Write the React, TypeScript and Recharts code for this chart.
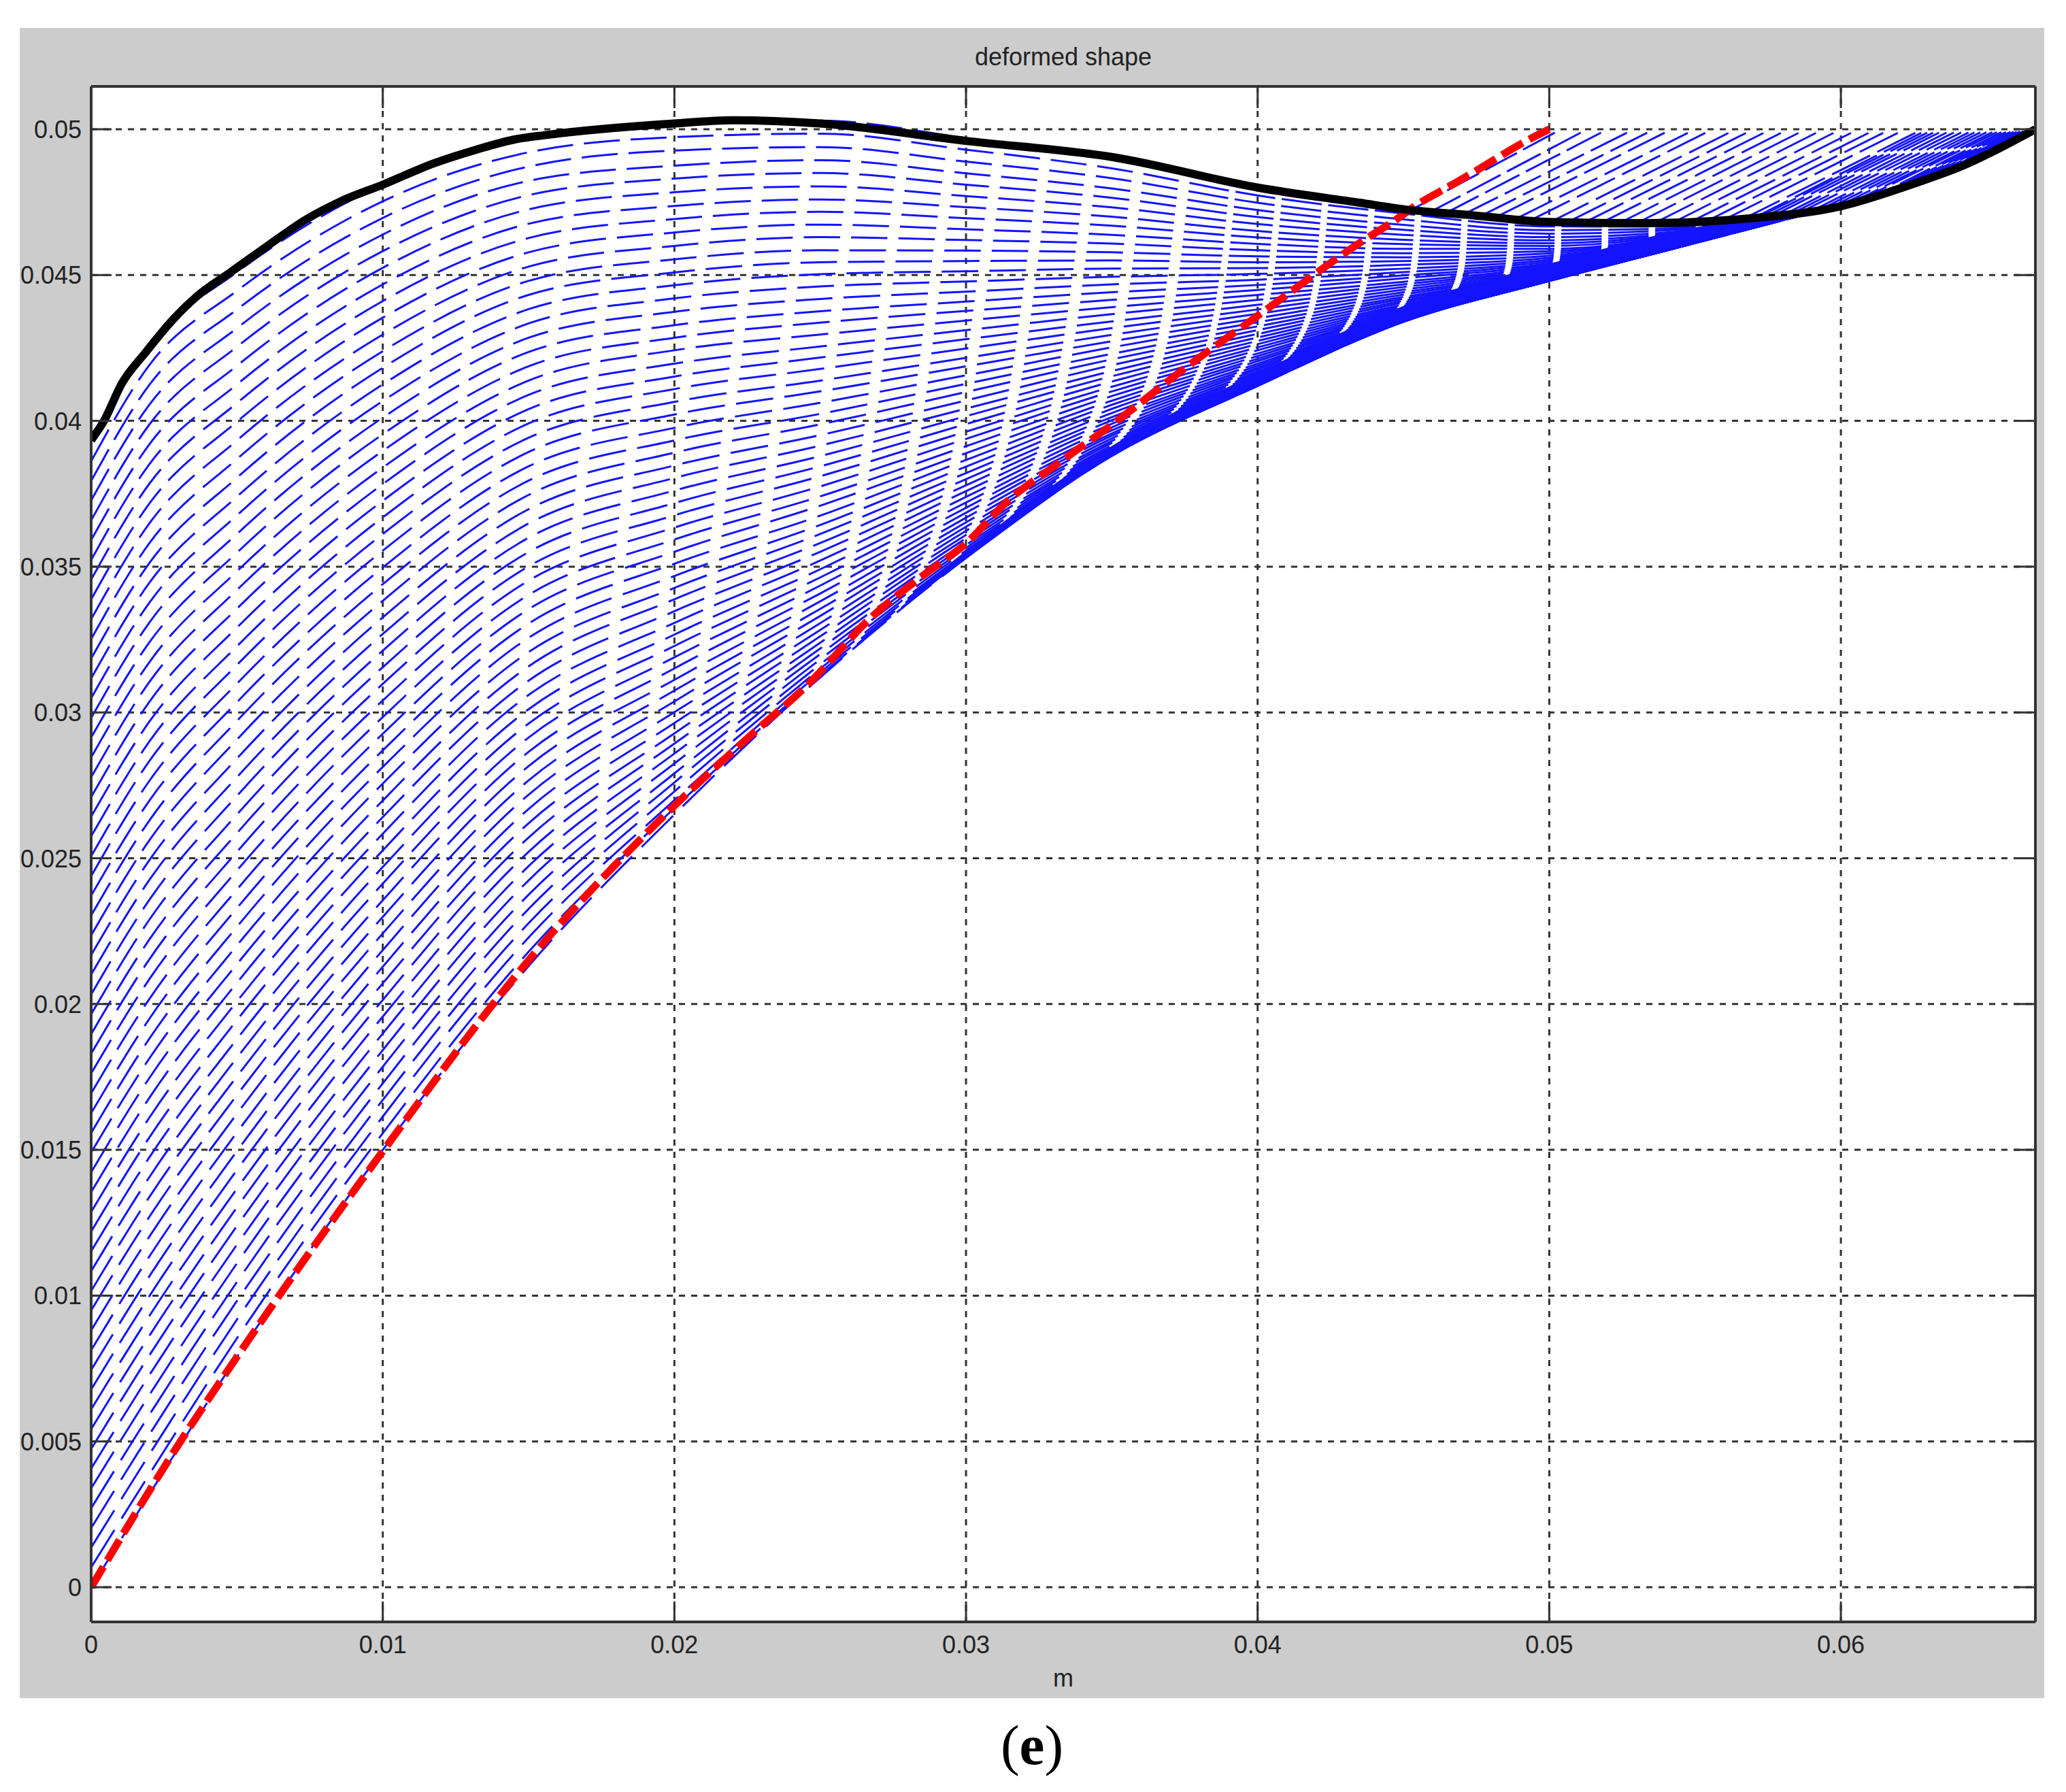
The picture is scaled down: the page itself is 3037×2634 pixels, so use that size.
import { ComposedChart, Area, Line, XAxis, YAxis, CartesianGrid } from "recharts";

const xTicks = [0, 0.01, 0.02, 0.03, 0.04, 0.05, 0.06];
const yTicks = [0, 0.005, 0.01, 0.015, 0.02, 0.025, 0.03, 0.035, 0.04, 0.045, 0.05];

// black outline
const blackX = [0, 0.00044, 0.00104, 0.00187, 0.00283, 0.00366, 0.00474, 0.00605, 0.00736, 0.00856, 0.01, 0.01178, 0.01321, 0.01452, 0.01557, 0.02, 0.022, 0.025, 0.03, 0.035, 0.04, 0.0435, 0.04505, 0.04737, 0.05, 0.0534, 0.0568, 0.06, 0.06252, 0.0642, 0.0655, 0.06667];
const blackY = [0.03934, 0.04, 0.04126, 0.04235, 0.0435, 0.0443, 0.04507, 0.046, 0.0469, 0.04753, 0.0481, 0.04884, 0.0493, 0.04965, 0.0498, 0.0502, 0.05031, 0.0502, 0.0496, 0.04905, 0.048, 0.04748, 0.04725, 0.04705, 0.04682, 0.04678, 0.04694, 0.04736, 0.04814, 0.04876, 0.04938, 0.05];

// red dashed curve
const redX = [0, 0.003, 0.005, 0.01, 0.015, 0.02, 0.0226, 0.0246, 0.02676, 0.02853, 0.03, 0.03143, 0.0331, 0.0351, 0.0375, 0.04, 0.0438, 0.0446, 0.04551, 0.0466, 0.04753, 0.0483, 0.04923, 0.05];
const redY = [0, 0.0049, 0.0079, 0.01495, 0.0215, 0.0268, 0.0292, 0.03098, 0.03327, 0.0347, 0.0358, 0.03725, 0.0385, 0.03994, 0.0418, 0.0436, 0.0463, 0.0468, 0.04744, 0.04806, 0.0486, 0.04907, 0.04961, 0.05];

// blue hatch rows, hand estimated: only the hatch boundaries and the row spacing were read
// at each x below, the ~60 single rows are not separately legible, so in between they are
// worked out by eye, not measured. Units are 1e-5 m, one value per row.
const hatchX = [0, 0.002, 0.005, 0.01, 0.015, 0.02, 0.025, 0.03, 0.035, 0.04, 0.045, 0.05, 0.055, 0.06];
const rowsAt0 = [0,68,136,203,271,339,407,474,542,610,678,745,813,881,949,1016,1084,1152,1220,1287,1355,1423,1491,1558,1626,1694,1762,1830,1897,1965,2033,2101,2168,2236,2304,2372,2439,2507,2575,2643,2710,2778,2846,2914,2981,3049,3117,3185,3252,3320,3388,3456,3523,3591,3659,3727,3794,3862,3930];
const rowsAt002 = [320,388,456,524,592,660,728,796,863,931,999,1067,1135,1203,1271,1339,1407,1475,1543,1611,1679,1747,1814,1882,1950,2018,2086,2154,2222,2290,2358,2426,2494,2562,2630,2698,2766,2834,2901,2969,3037,3105,3173,3241,3309,3377,3445,3513,3581,3649,3717,3785,3852,3920,3988,4056,4124,4192,4260];
const rowsAt005 = [790,854,918,982,1047,1111,1175,1239,1303,1367,1431,1496,1560,1624,1688,1752,1816,1880,1945,2009,2073,2137,2201,2265,2329,2393,2458,2522,2586,2650,2714,2778,2842,2907,2971,3035,3099,3163,3227,3291,3356,3420,3484,3548,3612,3676,3740,3805,3869,3933,3997,4061,4125,4189,4254,4318,4382,4446,4510];
const rowsAt01 = [1500,1557,1614,1671,1728,1785,1842,1899,1957,2014,2071,2128,2185,2242,2299,2356,2413,2470,2527,2584,2641,2698,2756,2813,2870,2927,2984,3041,3098,3155,3212,3269,3326,3383,3440,3497,3555,3612,3669,3726,3783,3840,3897,3954,4011,4068,4125,4182,4239,4296,4354,4411,4468,4525,4582,4639,4696,4753,4810];
const rowsAt015 = [2130,2179,2228,2277,2326,2375,2424,2473,2522,2571,2620,2669,2718,2767,2816,2865,2914,2962,3011,3060,3109,3158,3207,3256,3305,3354,3403,3452,3501,3550,3599,3648,3697,3746,3795,3844,3893,3942,3991,4040,4089,4138,4187,4236,4285,4334,4383,4432,4480,4529,4578,4627,4676,4725,4774,4823,4872,4921,4970];
const rowsAt02 = [2650,2672,2699,2729,2760,2791,2825,2859,2893,2928,2964,3001,3038,3075,3112,3151,3189,3228,3267,3307,3347,3388,3427,3468,3510,3551,3593,3634,3676,3718,3761,3804,3847,3891,3933,3976,4022,4065,4109,4152,4196,4242,4285,4328,4374,4420,4465,4509,4554,4600,4646,4692,4737,4784,4831,4875,4927,4973,5020];
const rowsAt025 = [3120,3126,3137,3150,3165,3182,3200,3219,3239,3261,3283,3306,3331,3355,3381,3408,3435,3463,3491,3521,3551,3581,3612,3643,3675,3709,3741,3775,3810,3844,3879,3915,3951,3988,4024,4062,4101,4138,4178,4217,4255,4296,4337,4376,4418,4461,4503,4544,4585,4630,4673,4717,4759,4804,4850,4894,4939,4985,5030];
const rowsAt03 = [3530,3532,3536,3541,3547,3555,3564,3574,3585,3597,3609,3623,3637,3652,3668,3685,3702,3720,3739,3759,3779,3800,3821,3843,3866,3889,3913,3938,3963,3989,4016,4042,4070,4099,4127,4156,4187,4216,4248,4280,4311,4344,4377,4409,4443,4478,4513,4548,4584,4620,4657,4695,4733,4771,4810,4849,4889,4930,4970];
const rowsAt035 = [3880,3880,3881,3883,3885,3888,3891,3895,3900,3905,3910,3916,3924,3931,3940,3949,3957,3967,3978,3990,4002,4013,4027,4041,4055,4069,4085,4101,4117,4135,4153,4171,4191,4211,4230,4252,4273,4295,4318,4341,4366,4390,4415,4441,4468,4494,4522,4550,4578,4608,4638,4669,4700,4732,4765,4797,4832,4866,4900];
const rowsAt04 = [4120,4120,4120,4121,4122,4123,4124,4126,4128,4130,4133,4136,4140,4144,4147,4152,4158,4163,4169,4176,4182,4189,4196,4205,4213,4222,4231,4242,4252,4263,4274,4286,4298,4311,4324,4338,4352,4367,4382,4398,4415,4432,4449,4466,4484,4504,4524,4544,4564,4585,4607,4629,4651,4675,4699,4723,4748,4773,4800];
const rowsAt045 = [4340,4340,4340,4340,4340,4340,4341,4341,4341,4342,4342,4343,4344,4345,4346,4347,4348,4350,4352,4354,4356,4359,4361,4364,4368,4372,4375,4379,4384,4389,4394,4399,4406,4412,4419,4425,4433,4441,4450,4459,4468,4477,4489,4499,4510,4522,4535,4548,4561,4575,4590,4606,4621,4638,4655,4672,4691,4711,4730];
const rowsAt05 = [4480,4480,4480,4480,4480,4480,4480,4480,4480,4480,4480,4480,4480,4480,4481,4481,4481,4481,4482,4482,4483,4483,4484,4485,4486,4487,4488,4489,4491,4492,4494,4496,4499,4501,4504,4507,4510,4513,4517,4521,4525,4530,4535,4540,4546,4552,4559,4566,4574,4582,4590,4600,4609,4619,4630,4642,4654,4667,4680];
const rowsAt055 = [4610,4610,4610,4610,4610,4610,4610,4610,4610,4610,4610,4610,4610,4610,4610,4610,4610,4610,4611,4611,4611,4611,4611,4612,4612,4612,4612,4613,4613,4614,4614,4615,4616,4616,4617,4618,4619,4620,4621,4622,4624,4625,4627,4628,4630,4632,4634,4636,4638,4641,4643,4646,4649,4652,4655,4659,4662,4666,4670];
const rowsAt06 = rowsAt0.map(() => 4740);
const hatchColumns = [rowsAt0, rowsAt002, rowsAt005, rowsAt01, rowsAt015, rowsAt02, rowsAt025, rowsAt03, rowsAt035, rowsAt04, rowsAt045, rowsAt05, rowsAt055, rowsAt06];

// where the rows merge into solid blue along the lower edge
const wedgeX = [0.028, 0.03, 0.035, 0.04, 0.045, 0.05, 0.055, 0.0575, 0.06];
const wedgeLow = [0.0338, 0.0353, 0.0388, 0.0412, 0.0434, 0.0448, 0.0461, 0.0468, 0.0474];
const wedgeHigh = [0.0339, 0.0355, 0.0391, 0.0416, 0.0439, 0.04535, 0.0466, 0.04695, 0.0474];

// same thing in the top right corner, above the black curve
const cornerX = [0.0644, 0.0651, 0.0659, 0.06667];
const cornerLow = [0.0488, 0.0492, 0.0496, 0.05];
const cornerHigh = [0.04907, 0.04946, 0.04985, 0.05];

// blue lines above the black curve, from the curve up to y = 0.05
const upperStartX = [0.0452, 0.0458, 0.0464, 0.047, 0.0476, 0.0482, 0.0488, 0.0494, 0.05, 0.0506, 0.0512, 0.0518, 0.0524, 0.053, 0.0536, 0.0542, 0.0548, 0.0554, 0.056, 0.0566, 0.0569, 0.0572, 0.0575, 0.0578, 0.0581, 0.0584, 0.0587, 0.059, 0.0593, 0.0596, 0.0599, 0.0602, 0.0605, 0.0608, 0.0611, 0.0614, 0.0617, 0.062, 0.0623, 0.0626, 0.0629, 0.0632, 0.0635, 0.0638, 0.0641, 0.0644, 0.0647, 0.065];
const upperStartY = [0.0472, 0.0471, 0.0471, 0.04705, 0.047, 0.047, 0.0469, 0.0469, 0.0468, 0.0468, 0.0468, 0.0468, 0.04678, 0.04678, 0.04678, 0.04678, 0.0468, 0.04685, 0.0469, 0.0469, 0.0469, 0.047, 0.04705, 0.0471, 0.0471, 0.04715, 0.0472, 0.0472, 0.04725, 0.0473, 0.04735, 0.0474, 0.0475, 0.0475, 0.0476, 0.0477, 0.0478, 0.0479, 0.048, 0.0481, 0.0482, 0.0484, 0.0485, 0.0486, 0.0487, 0.0489, 0.049, 0.0492];
const upperEndX = [0.0504, 0.0513, 0.052, 0.0529, 0.0536, 0.0542, 0.055, 0.0556, 0.0564, 0.057, 0.0576, 0.0582, 0.0588, 0.0594, 0.06, 0.0606, 0.0612, 0.0617, 0.0622, 0.0628, 0.063, 0.0632, 0.0634, 0.0636, 0.06385, 0.0641, 0.06435, 0.0646, 0.0648, 0.065, 0.0652, 0.0654, 0.06555, 0.0657, 0.06585, 0.066, 0.0661, 0.0662, 0.0663, 0.0664, 0.06645, 0.0665, 0.06655, 0.0666, 0.0666, 0.0666, 0.06665, 0.06667];

const hatchData = hatchX.map((x, i) => {
  const row: Record<string, number> = { x };
  hatchColumns[i].forEach((v, k) => {
    row["r" + k] = v / 100000;
  });
  return row;
});
const blackData = blackX.map((x, i) => ({ x, y: blackY[i] }));
const redData = redX.map((x, i) => ({ x, y: redY[i] }));
const wedgeData = wedgeX.map((x, i) => ({ x, band: [wedgeLow[i], wedgeHigh[i]] }));
const cornerData = cornerX.map((x, i) => ({ x, band: [cornerLow[i], cornerHigh[i]] }));

const axisColor = "#333333";
const textColor = "#222222";
const blue = "#1414ff";
const font = "'Liberation Sans', Arial, sans-serif";
const xDomain = [0, 0.06667];
const yDomain = [-0.00119, 0.05147];
// gaps close up towards the far end of the rows
const rowDash = [...Array(26).fill("19.2 5.8"), ...Array(14).fill("21.5 3.5")].join(" ");

function BottomTick({ x, y, payload }: any) {
  return (
    <g>
      <line x1={x} x2={x} y1={y} y2={y - 30} stroke={axisColor} strokeWidth={3} />
      <text x={x} y={y + 46} textAnchor="middle" fontSize={36} fontFamily={font} fill={textColor}>
        {payload.value}
      </text>
    </g>
  );
}

function LeftTick({ x, y, payload }: any) {
  return (
    <g>
      <line x1={x} x2={x + 30} y1={y} y2={y} stroke={axisColor} strokeWidth={3} />
      <text x={x - 14} y={y + 13} textAnchor="end" fontSize={36} fontFamily={font} fill={textColor}>
        {payload.value}
      </text>
    </g>
  );
}

function TopTick({ x, y }: any) {
  return <line x1={x} x2={x} y1={y} y2={y + 32} stroke={axisColor} strokeWidth={3} />;
}

function RightTick({ x, y }: any) {
  return <line x1={x} x2={x - 32} y1={y} y2={y} stroke={axisColor} strokeWidth={3} />;
}

export default function App() {
  return (
    <div style={{ position: "absolute", left: 0, top: 0, width: 3037, height: 2634, background: "#fff" }}>
      <div style={{ position: "absolute", left: 29, top: 41, width: 2976, height: 2455, background: "#cccccc" }} />
      <div style={{ position: "absolute", left: 0, top: 0 }}>
        <ComposedChart
          width={3037}
          height={2634}
          data={hatchData}
          margin={{ top: 126, left: 133, right: 44, bottom: 249 }}
        >
          <CartesianGrid fill="#ffffff" stroke={axisColor} strokeWidth={3} strokeDasharray="9 9" />
          <XAxis
            type="number"
            dataKey="x"
            domain={xDomain}
            ticks={xTicks}
            interval={0}
            height={1}
            tickSize={0}
            tickMargin={0}
            tickLine={false}
            tick={BottomTick}
            allowDataOverflow
            stroke={axisColor}
            strokeWidth={4}
            label={{ value: "m", position: "bottom", offset: 68, fontSize: 36, fontFamily: font, fill: textColor }}
          />
          <XAxis
            xAxisId="top"
            orientation="top"
            type="number"
            dataKey="x"
            domain={xDomain}
            ticks={xTicks}
            interval={0}
            height={1}
            tickSize={0}
            tickMargin={0}
            tickLine={false}
            tick={TopTick}
            allowDataOverflow
            stroke={axisColor}
            strokeWidth={4}
            label={{ value: "deformed shape", position: "top", offset: 30, fontSize: 36, fontFamily: font, fill: textColor }}
          />
          <YAxis
            type="number"
            domain={yDomain}
            ticks={yTicks}
            interval={0}
            width={1}
            tickSize={0}
            tickMargin={0}
            tickLine={false}
            tick={LeftTick}
            allowDataOverflow
            stroke={axisColor}
            strokeWidth={4}
          />
          <YAxis
            yAxisId="right"
            orientation="right"
            type="number"
            domain={yDomain}
            ticks={yTicks}
            interval={0}
            width={1}
            tickSize={0}
            tickMargin={0}
            tickLine={false}
            tick={RightTick}
            allowDataOverflow
            stroke={axisColor}
            strokeWidth={4}
          />
          {rowsAt0.map((_, k) => (
            <Line
              key={"row" + k}
              type="monotone"
              dataKey={"r" + k}
              stroke={blue}
              strokeWidth={3}
              pathLength={1000}
              strokeDasharray={rowDash}
              dot={false}
              activeDot={false}
              isAnimationActive={false}
            />
          ))}
          {upperStartX.map((sx, k) => (
            <Line
              key={"upper" + k}
              data={[
                { x: sx, y: upperStartY[k] },
                { x: upperEndX[k], y: 0.05 },
              ]}
              type="linear"
              dataKey="y"
              stroke={blue}
              strokeWidth={3}
              pathLength={100}
              strokeDasharray="21 4"
              dot={false}
              activeDot={false}
              isAnimationActive={false}
            />
          ))}
          <Area
            data={wedgeData}
            type="monotone"
            dataKey="band"
            stroke={blue}
            strokeWidth={3}
            fill={blue}
            fillOpacity={1}
            dot={false}
            activeDot={false}
            isAnimationActive={false}
          />
          <Area
            data={cornerData}
            type="linear"
            dataKey="band"
            stroke={blue}
            strokeWidth={2}
            fill={blue}
            fillOpacity={1}
            dot={false}
            activeDot={false}
            isAnimationActive={false}
          />
          <Line
            data={redData}
            type="monotone"
            dataKey="y"
            stroke="#ff0000"
            strokeWidth={11}
            strokeDasharray="35 11"
            dot={false}
            activeDot={false}
            isAnimationActive={false}
          />
          <Line
            data={blackData}
            type="monotone"
            dataKey="y"
            stroke="#000000"
            strokeWidth={12}
            dot={false}
            activeDot={false}
            isAnimationActive={false}
          />
        </ComposedChart>
      </div>
      <div
        style={{
          position: "absolute",
          left: 0,
          top: 2517,
          width: 3034,
          textAlign: "center",
          fontFamily: "'Liberation Serif', serif",
          fontSize: 83,
          lineHeight: "96px",
          color: "#000",
        }}
      >
        (<b>e</b>)
      </div>
    </div>
  );
}
